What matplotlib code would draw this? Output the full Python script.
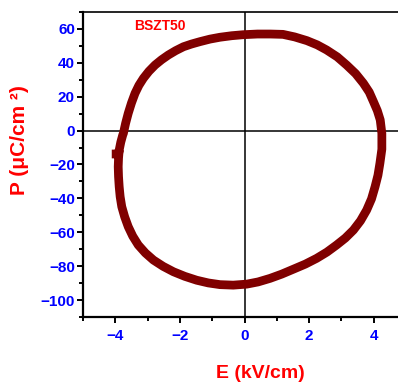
import matplotlib.pyplot as plt

plt.rcParams['font.family'] = ['Liberation Sans', 'DejaVu Sans']

# P-E hysteresis loop of BSZT50
E = [-4.11, -3.90, -3.88, -3.83, -3.77, -3.75, -3.68, -3.60, -3.50, -3.39, -3.27, -3.13,
     -2.96, -2.77, -2.57, -2.36, -2.13, -1.89, -1.64, -1.38, -1.07, -0.76, -0.40,
     -0.04, 0.40, 0.80, 1.19, 1.55, 1.93, 2.25, 2.54, 2.87, 3.16, 3.44, 3.68,
     3.86, 3.99, 4.11, 4.20, 4.25, 4.25, 4.19, 4.13, 4.04, 3.93, 3.78, 3.59,
     3.37, 3.12, 2.85, 2.55, 2.23, 1.88, 1.51, 1.15, 0.79, 0.42, 0.07, -0.35,
     -0.76, -1.12, -1.48, -1.85, -2.20, -2.52, -2.82, -3.07, -3.29, -3.46, -3.60,
     -3.71, -3.80, -3.85, -3.88, -3.90, -3.91, -3.90, -3.88]
P = [-13.8, -13.8, -11.5, -6.8, -2.6, -1.6, 4.4, 10.2, 16.3, 22.0, 26.7, 30.9,
     35.0, 38.7, 41.8, 44.6, 47.2, 49.5, 51.1, 52.5, 54.0, 55.1, 56.0,
     56.6, 57.0, 57.0, 56.8, 55.3, 53.1, 50.6, 47.6, 43.5, 38.7, 33.6, 27.9,
     22.7, 17.1, 11.8, 6.3, -1.6, -11.0, -19.3, -26.3, -33.1, -40.3, -46.9, -53.2,
     -58.7, -63.4, -67.5, -71.7, -75.4, -78.8, -81.8, -84.7, -87.2, -89.3, -90.6, -91.2,
     -90.9, -89.9, -88.3, -86.0, -83.3, -80.1, -76.4, -72.2, -67.5, -62.3, -56.7,
     -50.9, -44.9, -39.0, -33.1, -27.2, -21.3, -16.3, -11.5]

x_major = [-4, -2, 0, 2, 4]
x_minor = [-5, -3, -1, 1, 3]
y_major = [-100, -80, -60, -40, -20, 0, 20, 40, 60]
y_minor = [-110, -90, -70, -50, -30, -10, 10, 30, 50, 70]

fig = plt.figure(figsize=(3.98, 3.85), dpi=100)
ax = fig.add_axes([83/398, 1 - 317/385, 1 - 83/398, (317 - 12)/385])

ax.axhline(0, color='black', lw=1.1, zorder=1)
ax.axvline(0, color='black', lw=1.1, zorder=1)
ax.plot(E, P, color='#800000', lw=6.3, solid_joinstyle='round',
        solid_capstyle='butt', zorder=2)

ax.set_xlim(-5, 4.75)
ax.set_ylim(-110, 70)
ax.set_xticks(x_major)
ax.set_xticks(x_minor, minor=True)
ax.set_yticks(y_major)
ax.set_yticks(y_minor, minor=True)

ax.tick_params(which='both', direction='out', width=1.4, top=False, right=False)
ax.tick_params(which='major', length=4.3, labelsize=11, labelcolor='#0000FF')
ax.tick_params(which='minor', length=2.9)
ax.tick_params(axis='y', which='major', pad=1.5)
ax.tick_params(axis='x', which='major', pad=4)
for lab in ax.get_xticklabels() + ax.get_yticklabels():
    lab.set_fontweight('bold')

ax.spines['left'].set_linewidth(1.6)
ax.spines['bottom'].set_linewidth(1.6)
ax.spines['top'].set_linewidth(1.2)
ax.spines['right'].set_visible(False)

ax.text(-2.62, 61.7, 'BSZT50', color='red', fontsize=10, fontweight='bold',
        ha='center', va='center')

fig.text(260/398, 1 - 373/385, 'E (kV/cm)', color='red', fontsize=14,
         fontweight='bold', ha='center', va='center')
fig.text(20/398, 1 - 140/385, 'P (μC/cm ²)', color='red', fontsize=15,
         fontweight='bold', ha='center', va='center', rotation=90)

fig.savefig('out.png', dpi=100)
